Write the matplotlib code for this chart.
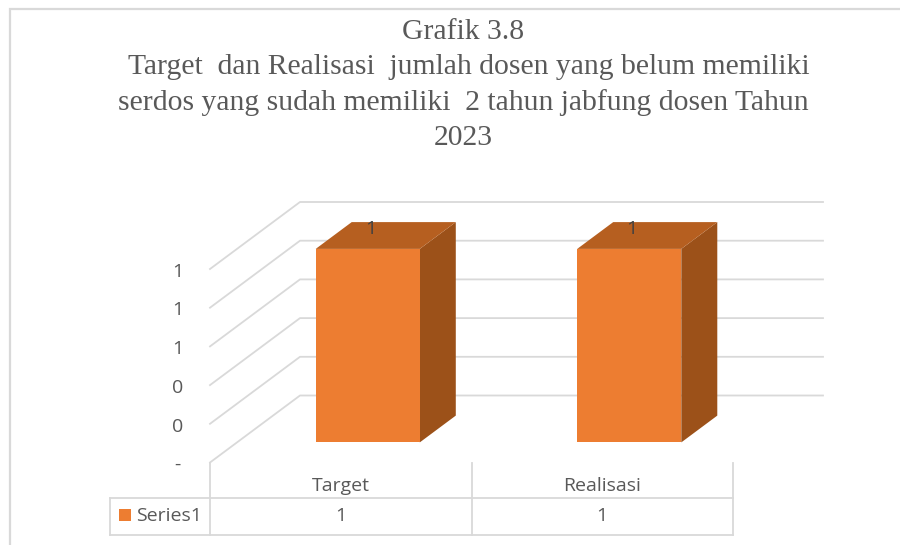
import matplotlib
matplotlib.use("Agg")
import matplotlib.pyplot as plt
from matplotlib.patches import Polygon
from matplotlib.transforms import blended_transform_factory

# dados do grafico
categorias = ["Target", "Realisasi"]
valores = [1, 1]
rotulos_valor = ["1", "1"]
serie = "Series1"
y_ticks = [0, 0.2, 0.4, 0.6, 0.8, 1.0]
y_labels = ["-", "0", "0", "1", "1", "1"]
titulo = ["Grafik 3.8",
          "Target  dan Realisasi  jumlah dosen yang belum memiliki",
          "serdos yang sudah memiliki  2 tahun jabfung dosen Tahun",
          "2023"]
titulo_x = [463, 468.5, 463, 463]
titulo_y = [32, 67, 103, 138]

CINZA = "#d9d9d9"
TEXTO = "#595959"
W, H = 900, 545

fig = plt.figure(figsize=(W / 100, H / 100), dpi=100)

# camada em pixels: moldura, titulo e tabela
over = fig.add_axes([0, 0, 1, 1], zorder=1)
over.set_xlim(0, W)
over.set_ylim(H, 0)
over.axis("off")

# eixo principal: plano frontal do grafico 3D
ax = fig.add_axes([210 / W, 1 - 462.5 / H, 523 / W, 193.5 / H], zorder=2)
ax.set_xlim(-0.5, 1.5)
ax.set_ylim(0, 1)
ax.axis("off")

# deslocamento da profundidade em unidades de dados
DX = 90 / (523 / 2)
DY = 67 / 193.5


def proj(x, v, d):
    return (x + d * DX, v + d * DY)


# moldura
over.plot([900, 9.5, 9.5], [8.5, 8.5, 545], color=CINZA, lw=1.6, solid_joinstyle="miter")

# titulo
for linha, xx, yy in zip(titulo, titulo_x, titulo_y):
    over.text(xx, yy, linha, ha="center", va="center", family="Liberation Serif",
              fontsize=21.3, color=TEXTO)

# grades das paredes
for v, lab in zip(y_ticks, y_labels):
    a = proj(-0.5, v, 0)
    b = proj(-0.5, v, 1)
    c = proj(1.5, v, 1)
    ax.plot([a[0], b[0], c[0]], [a[1], b[1], c[1]], color=CINZA, lw=1.3, clip_on=False, zorder=1)
    ax.annotate(lab, (-0.5, v), xytext=(-23.5, -2), textcoords="offset points", ha="center",
                va="center", family="Open Sans", fontsize=14, color=TEXTO, annotation_clip=False)

# barras 3D
largura = 0.398
d0, d1 = 0.3, 0.7
for i, val in enumerate(valores):
    x0, x1 = i - largura / 2, i + largura / 2
    frente = [proj(x0, 0, d0), proj(x1, 0, d0), proj(x1, val, d0), proj(x0, val, d0)]
    lado = [proj(x1, 0, d0), proj(x1, 0, d1), proj(x1, val, d1), proj(x1, val, d0)]
    topo = [proj(x0, val, d0), proj(x1, val, d0), proj(x1, val, d1), proj(x0, val, d1)]
    ax.add_patch(Polygon(lado, fc="#9c5119", ec="none", clip_on=False, zorder=3))
    ax.add_patch(Polygon(topo, fc="#b65f20", ec="none", clip_on=False, zorder=3))
    ax.add_patch(Polygon(frente, fc="#ed7d31", ec="none", clip_on=False, zorder=3))
    ax.annotate(rotulos_valor[i], proj(i, val, (d0 + d1) / 2), xytext=(-11, 5),
                textcoords="offset points", ha="center", va="center", family="Open Sans",
                fontsize=14, color="#404040", annotation_clip=False, zorder=4)

# tabela de dados
for xx in [210, 471.5, 733]:
    over.plot([xx, xx], [463, 534.5], color=CINZA, lw=1.3)
over.plot([110, 733], [497.5, 497.5], color=CINZA, lw=1.3)
over.plot([110, 733], [534.5, 534.5], color=CINZA, lw=1.3)
over.plot([110, 110], [497.5, 534.5], color=CINZA, lw=1.3)

mix = blended_transform_factory(ax.transData, over.transData)
for i, cat in enumerate(categorias):
    ax.text(i, 486, cat, transform=mix, ha="center", va="center", family="Open Sans",
            fontsize=14, color=TEXTO, clip_on=False)
    ax.text(i, 516, rotulos_valor[i], transform=mix, ha="center", va="center", family="Open Sans",
            fontsize=14, color=TEXTO, clip_on=False)

# legenda na tabela
over.scatter([125], [515], marker="s", s=85, color="#ed7d31", linewidths=0)
over.text(136, 516, serie, ha="left", va="center", family="Open Sans", fontsize=14, color=TEXTO)

fig.savefig("out.png", dpi=100)
